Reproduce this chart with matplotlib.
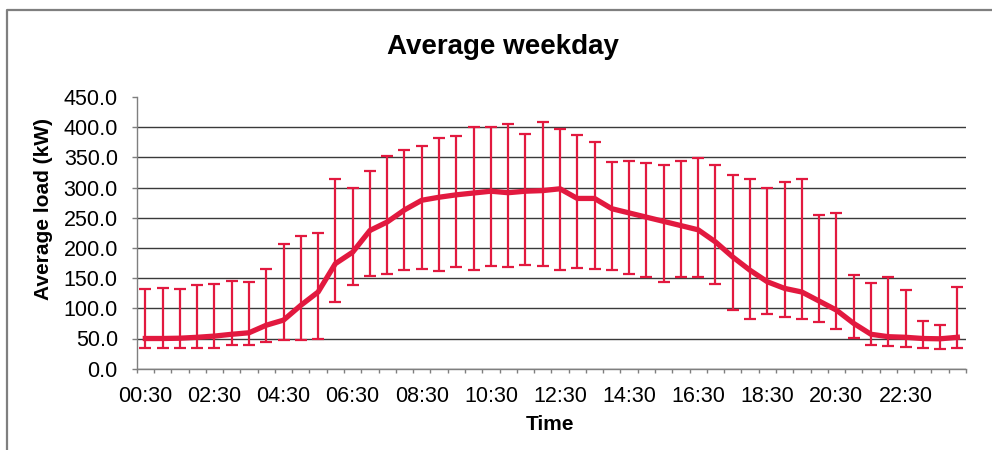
"""Average weekday load profile with min/max error bars (half-hourly)."""

import numpy as np
import matplotlib.pyplot as plt
from matplotlib.lines import Line2D

plt.rcParams['font.family'] = ['Liberation Sans', 'DejaVu Sans']

RED = '#E2193F'
AXIS_GRAY = '#7f7f7f'

TIMES = [
    '00:30', '01:00', '01:30', '02:00', '02:30', '03:00', '03:30', '04:00',
    '04:30', '05:00', '05:30', '06:00', '06:30', '07:00', '07:30', '08:00',
    '08:30', '09:00', '09:30', '10:00', '10:30', '11:00', '11:30', '12:00',
    '12:30', '13:00', '13:30', '14:00', '14:30', '15:00', '15:30', '16:00',
    '16:30', '17:00', '17:30', '18:00', '18:30', '19:00', '19:30', '20:00',
    '20:30', '21:00', '21:30', '22:00', '22:30', '23:00', '23:30', '24:00',
]
TICK_LABELS = ['00:30', '02:30', '04:30', '06:30', '08:30', '10:30',
               '12:30', '14:30', '16:30', '18:30', '20:30', '22:30']

# average load (kW)
MEAN = [50, 50, 50.5, 52, 54, 57, 59.5, 72, 80.5, 105, 127, 174,
        193, 229, 243, 263, 279, 284, 288, 291, 294, 291.5, 294, 295,
        298, 282, 282, 265, 258, 251, 244, 237, 230, 210, 185, 163,
        144, 133, 127, 112, 97, 75, 57, 53, 52, 50, 49.5, 52]
# top and bottom of each error bar (kW)
UPPER = [132, 134, 132, 138, 141, 145, 144, 165, 206, 219, 225, 314,
         300, 327, 352, 362, 369, 382, 386, 400, 401, 405, 388, 409,
         397, 387, 375, 342, 344, 340, 337, 344, 349, 337, 321, 315,
         300, 309, 315, 254, 258, 156, 142, 152, 130, 79, 73, 136]
LOWER = [34, 34, 34, 34, 34, 40, 40, 44, 47, 47, 50, 110,
         138, 154, 157, 163, 165, 162, 168, 163, 170, 168, 172, 170,
         164, 166, 165, 163, 157, 152, 144, 152, 152, 140, 98, 82,
         90, 86, 82, 78, 65, 51, 40, 38, 36, 35, 33, 35]


def main():
    x = np.arange(len(TIMES))
    mean = np.array(MEAN)
    yerr = [mean - np.array(LOWER), np.array(UPPER) - mean]

    fig = plt.figure(figsize=(9.92, 4.5), dpi=100)
    ax = fig.add_axes([0.1378, 0.1807, 0.836, 0.6037])

    ax.errorbar(x, mean, yerr=yerr, fmt='none', ecolor=RED,
                elinewidth=1.6, capsize=4.5, capthick=1.6, zorder=3)
    ax.plot(x, mean, color=RED, lw=3.8, solid_joinstyle='round', zorder=4)

    ax.set_xlim(-0.5, len(TIMES) - 0.5)
    ax.set_ylim(0, 450)

    # category labels every 2 hours, tick marks at category boundaries
    tick_pos = [TIMES.index(t) for t in TICK_LABELS]
    ax.set_xticks(tick_pos, TICK_LABELS)
    ax.set_xticks(np.arange(len(TIMES) + 1) - 0.5, minor=True)
    ax.tick_params(axis='x', which='major', length=0, pad=12.5,
                   labelsize=15.5)
    ax.tick_params(axis='x', which='minor', length=2.9, width=1,
                   color=AXIS_GRAY, direction='out')

    yt = np.arange(0, 451, 50)
    ax.set_yticks(yt, [f'{v:.1f}' for v in yt])
    ax.tick_params(axis='y', length=3.6, width=1, color=AXIS_GRAY,
                   pad=10, labelsize=15.5)

    ax.grid(axis='y', color='#3a3a3a', lw=1)
    ax.yaxis.get_gridlines()[-1].set_visible(False)
    ax.set_axisbelow(True)

    for side in ('top', 'right'):
        ax.spines[side].set_visible(False)
    for side in ('left', 'bottom'):
        ax.spines[side].set_color(AXIS_GRAY)
        ax.spines[side].set_linewidth(1)

    fig.text(503 / 992, 1 - 47 / 450, 'Average weekday', ha='center',
             va='center', fontsize=20, fontweight='bold')
    fig.text(550 / 992, 1 - 424 / 450, 'Time', ha='center', va='center',
             fontsize=15, fontweight='bold')
    fig.text(44 / 992, 1 - 209 / 450, 'Average load (kW)', rotation=90,
             ha='center', va='center', fontsize=15, fontweight='bold')

    # outer chart-area frame: only its top and left edges are in the image
    left, top = 7 / 992, 1 - 10 / 450
    fig.add_artist(Line2D([left, left, 1.0], [0.0, top, top],
                          transform=fig.transFigure, color=AXIS_GRAY,
                          lw=1.6))

    fig.savefig('out.png', dpi=100)
    plt.close(fig)


if __name__ == '__main__':
    main()
